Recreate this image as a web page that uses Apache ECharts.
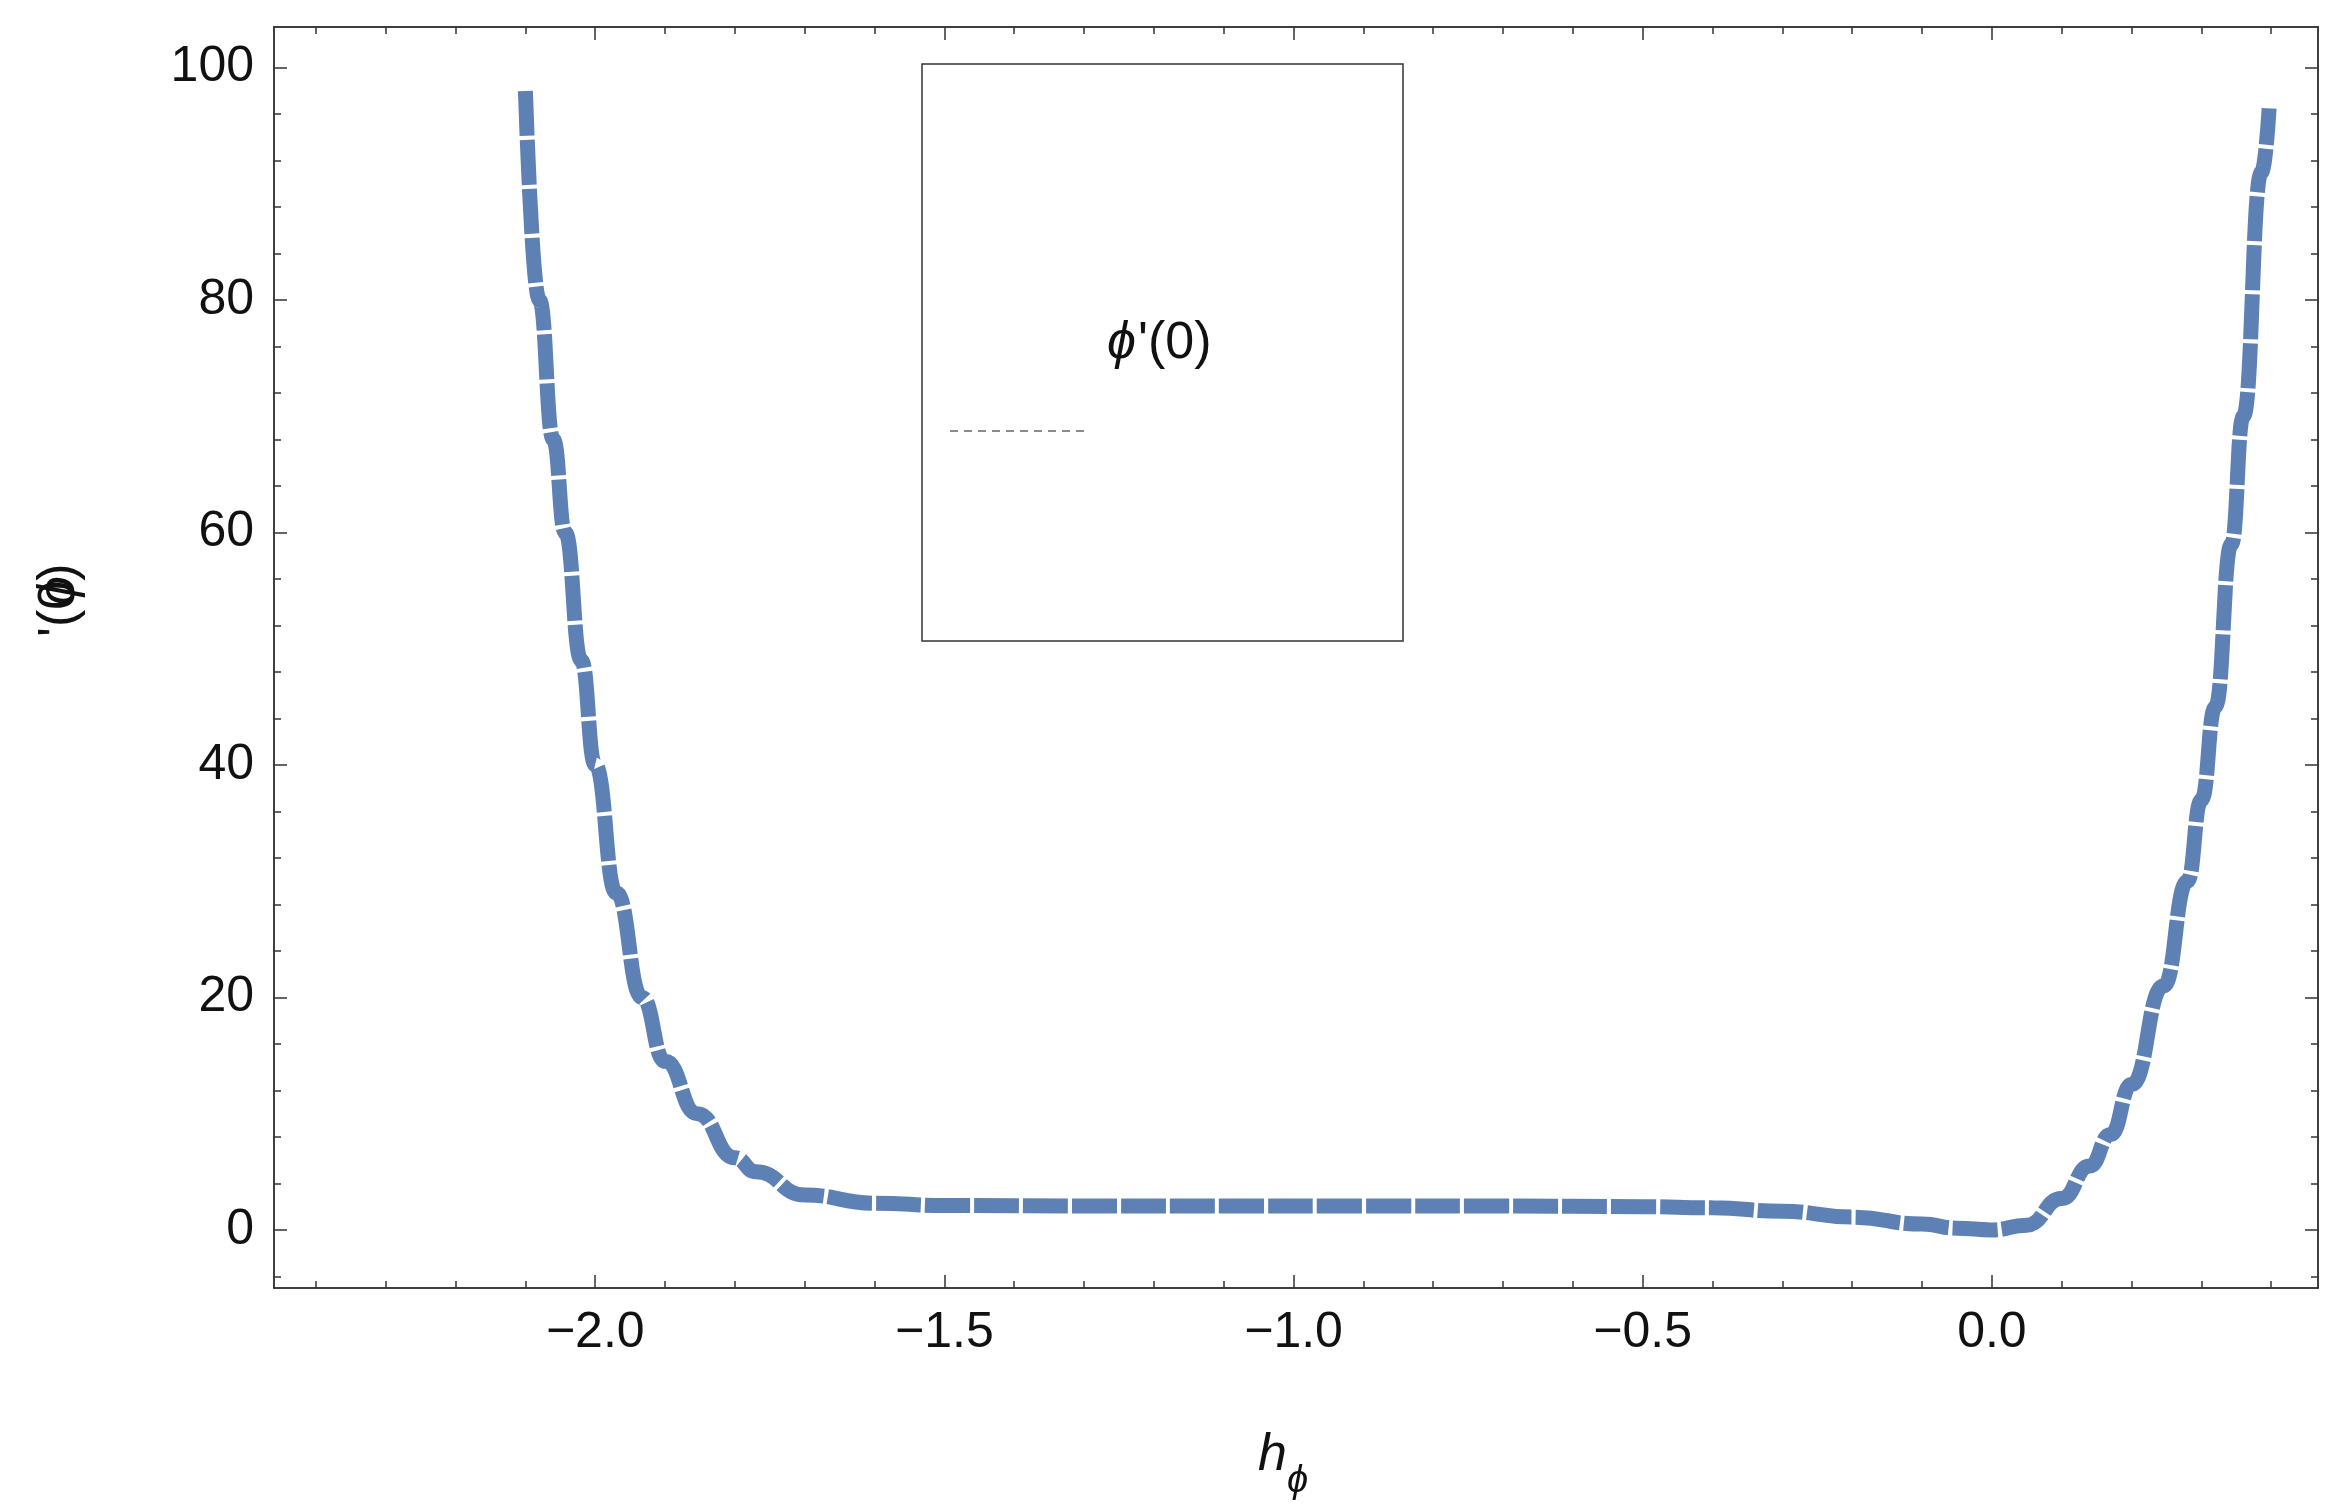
<!DOCTYPE html>
<html>
<head>
<meta charset="UTF-8">
<script src="https://cdn.jsdelivr.net/npm/echarts@6/dist/echarts.min.js"></script>
<style>html,body{margin:0;background:#fff}#c{width:2336px;height:1512px}</style>
</head>
<body>
<div id="c"></div>
<script>
var hPhi = [-2.1, -2.08, -2.06, -2.043, -2.02, -2.0, -1.97, -1.933, -1.9, -1.854, -1.8, -1.77, -1.7, -1.6, -1.5, -1.3, -1.1, -0.9, -0.7, -0.5, -0.4, -0.3, -0.2, -0.1, -0.05, 0.0, 0.05, 0.1, 0.14, 0.17, 0.2, 0.246, 0.28, 0.3, 0.32, 0.343, 0.36, 0.386, 0.397];
var phiPrime0 = [98, 80, 68, 60, 49, 40, 29, 20, 14.5, 10, 6.2, 5, 3, 2.3, 2.1, 2.05, 2.05, 2.05, 2.05, 2.0, 1.9, 1.6, 1.1, 0.5, 0.15, 0.0, 0.4, 2.7, 5.5, 8.2, 12.5, 21, 30, 37, 45, 59, 70, 91, 96.5];
var xMajor = [-2.0, -1.5, -1.0, -0.5, 0.0];
var xMinor = [-2.4, -2.3, -2.2, -2.1, -1.9, -1.8, -1.7, -1.6, -1.4, -1.3, -1.2, -1.1, -0.9, -0.8, -0.7, -0.6, -0.4, -0.3, -0.2, -0.1, 0.1, 0.2, 0.3, 0.4];
var yMajor = [0, 20, 40, 60, 80, 100];
var yMinor = [-4, 4, 8, 12, 16, 24, 28, 32, 36, 44, 48, 52, 56, 64, 68, 72, 76, 84, 88, 92, 96];

var font = 'Liberation Sans';
function xa(pos, vals, len, labels) {
  return {
    type: 'value', position: pos, min: -2.46, max: 0.467,
    axisLine: {show: true, onZero: false, lineStyle: {color: '#333', width: 1.5}},
    splitLine: {show: false},
    axisTick: {show: true, inside: true, length: len, customValues: vals, lineStyle: {color: '#333', width: 1.5}},
    axisLabel: {show: labels, customValues: vals, fontSize: 50, fontFamily: font, color: '#111', margin: 20,
      formatter: function (v) { return (v < 0 ? '\u2212' : '') + Math.abs(v).toFixed(1); }}
  };
}
function ya(pos, vals, len, labels) {
  return {
    type: 'value', position: pos, min: -5, max: 103.5,
    axisLine: {show: true, onZero: false, lineStyle: {color: '#333', width: 1.5}},
    splitLine: {show: false},
    axisTick: {show: true, inside: true, length: len, customValues: vals, lineStyle: {color: '#333', width: 1.5}},
    axisLabel: {show: labels, customValues: vals, fontSize: 50, fontFamily: font, color: '#111', margin: 20}
  };
}

var chart = echarts.init(document.getElementById('c'));
chart.setOption({
  animation: false,
  backgroundColor: '#fff',
  grid: {left: 274, right: 18, top: 27, bottom: 224},
  xAxis: [xa('bottom', xMajor, 13, true), xa('bottom', xMinor, 7, false),
          xa('top', xMajor, 13, false), xa('top', xMinor, 7, false)],
  yAxis: [ya('left', yMajor, 13, true), ya('left', yMinor, 7, false),
          ya('right', yMajor, 13, false), ya('right', yMinor, 7, false)],
  series: [{
    name: "\u03d5'(0)", type: 'line', smooth: 0.5, smoothMonotone: 'x', showSymbol: false,
    data: hPhi.map(function (x, i) { return [x, phiPrime0[i]]; }),
    lineStyle: {color: '#5e81b5', width: 15, type: [45, 4], cap: 'butt'}
  }],
  graphic: [
    {type: 'rect', shape: {x: 922, y: 64, width: 481, height: 577}, style: {fill: 'none', stroke: '#333', lineWidth: 1.5}},
    {type: 'line', shape: {x1: 950, y1: 431, x2: 1090, y2: 431}, style: {stroke: '#666', lineWidth: 1.5, lineDash: [8, 6]}},
    {type: 'text', x: 1107, y: 318, style: {text: "\u03d5", font: 'italic 52px ' + font, fill: '#111'}},
    {type: 'text', x: 1138, y: 318, style: {text: "'(0)", font: '52px ' + font, fill: '#111'}},
    {type: 'text', x: 1258, y: 1430, style: {text: 'h', font: 'italic 52px ' + font, fill: '#111'}},
    {type: 'text', x: 1287, y: 1462, style: {text: '\u03d5', font: 'italic 38px ' + font, fill: '#111'}},
    {type: 'text', x: 34, y: 605, rotation: Math.PI / 2, style: {text: "\u03d5", font: 'italic 52px ' + font, fill: '#111'}},
    {type: 'text', x: 34, y: 637, rotation: Math.PI / 2, style: {text: "'(0)", font: '52px ' + font, fill: '#111'}}
  ]
});
</script>
</body>
</html>
